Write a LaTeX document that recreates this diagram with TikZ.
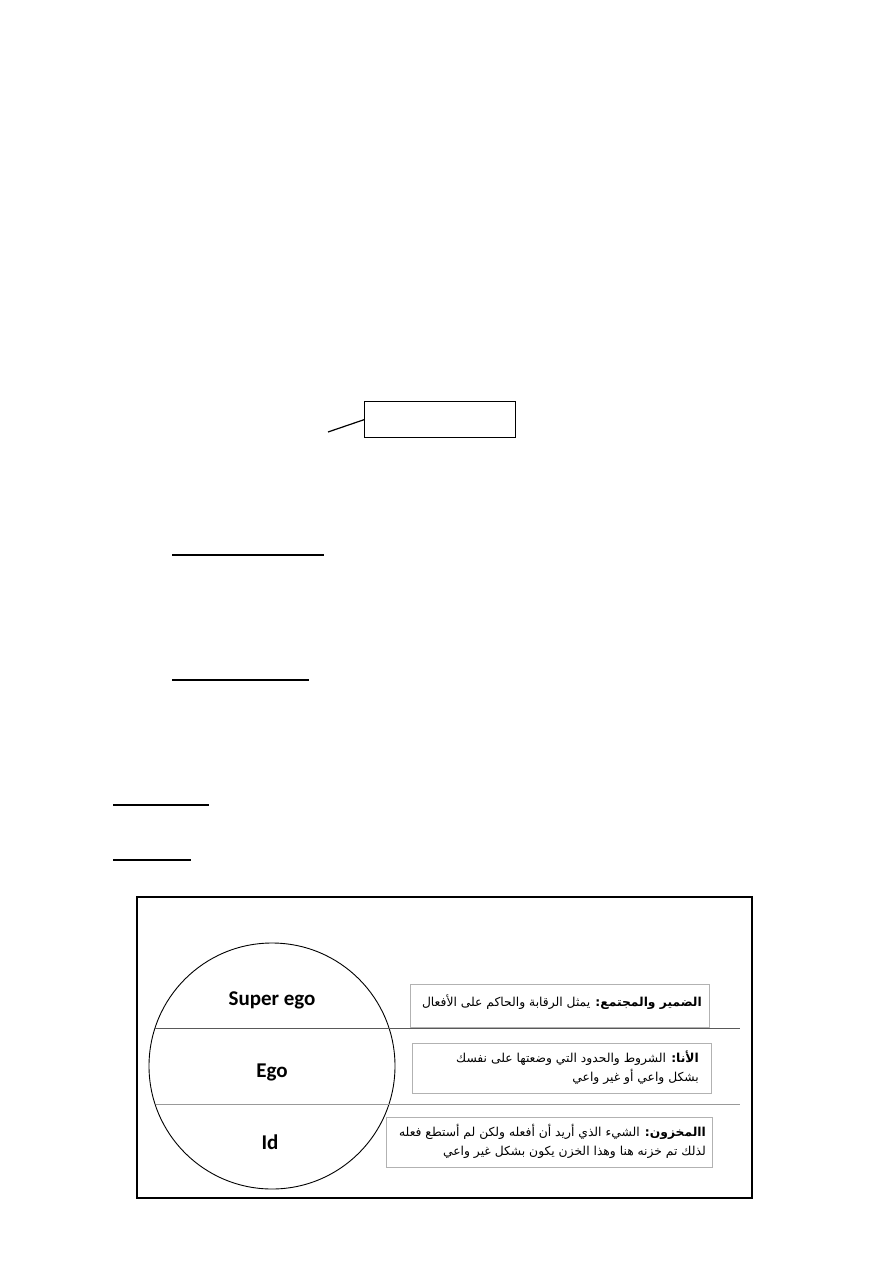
\documentclass[tikz,border=0pt]{standalone}
\usepackage{fontspec}
\newfontfamily\arabicfont[Script=Arabic]{DejaVu Sans}
\newfontfamily\calfont{Carlito}
\TeXXeTstate=1
\begin{document}
\begin{tikzpicture}[x=1pt,y=-1pt,
  uline/.style={line width=2pt},
  infobox/.style={draw=black!30, line width=0.8pt, inner sep=0pt, anchor=north west},
  layerlabel/.style={font=\calfont\bfseries\fontsize{21}{24}\selectfont, inner sep=0pt},
  artext/.style={font=\arabicfont\fontsize{12.3}{19}\selectfont, align=right, inner sep=0pt, anchor=east}]
\useasboundingbox (0,0) rectangle (893,1263);
\fill[white] (0,0) rectangle (893,1263);

% callout box at top
\node[draw, line width=1.4pt, inner sep=0pt, minimum width=151pt, minimum height=36pt, anchor=north west] (callout) at (364,401) {};
\coordinate (ctail) at (328,432);
\draw[line width=1.2pt] (ctail) -- (callout.west);

% underlines
\draw[uline] (172,555) -- (324,555);
\draw[uline] (172,680) -- (309,680);
\draw[uline] (113,805) -- (209,805);
\draw[uline] (113,860) -- (191,860);

% frame
\draw[line width=1.3pt] (137,897) rectangle (752,1198);

% circle
\node[circle, draw, line width=0.9pt, minimum size=246pt, inner sep=0pt] (psyche) at (272,1066) {};

% dividing lines
\coordinate (l1a) at (155,1028);
\coordinate (l1b) at (740,1028);
\coordinate (l2a) at (155.5,1104.5);
\coordinate (l2b) at (740,1104.5);
\draw[black!65, line width=1pt] (l1a) -- (l1b);
\draw[black!40, line width=1.6pt] (l2a) -- (l2b);

% layer labels
\node[layerlabel] (sup) at (272,1000) {Super ego};
\node[layerlabel] (ego) at (272,1072) {Ego};
\node[layerlabel] (id) at (270,1142) {Id};

% info boxes
\node[infobox, minimum width=299pt, minimum height=43pt] (b1) at (410,984) {};
\node[infobox, minimum width=299pt, minimum height=50pt] (b2) at (412,1043) {};
\node[infobox, minimum width=326pt, minimum height=50pt] (b3) at (386,1117) {};

\node[artext] (t1) at (702,1002) {\beginR{\bfseries الضمير والمجتمع:} يمثل الرقابة والحاكم على الأفعال\endR};
\node[artext] (t2) at (699,1068) {\beginR{\bfseries الأنا:} الشروط والحدود التي وضعتها على نفسك\endR\\\beginR بشكل واعي أو غير واعي\endR};
\node[artext] (t3) at (706,1141) {\beginR{\bfseries االمخزون:} الشيء الذي أريد أن أفعله ولكن لم أستطع فعله\endR\\\beginR لذلك تم خزنه هنا وهذا الخزن يكون بشكل غير واعي\endR};
\end{tikzpicture}
\end{document}
